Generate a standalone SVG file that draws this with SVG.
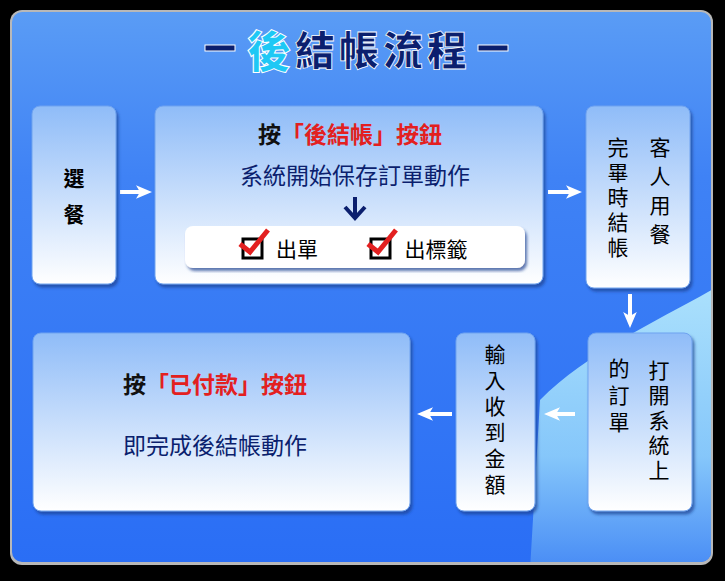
<svg xmlns="http://www.w3.org/2000/svg" width="725" height="581" viewBox="0 0 725 581">
<defs>
<linearGradient id="bg" x1="0" y1="0" x2="0" y2="1"><stop offset="0" stop-color="#5a9cf5"/><stop offset="0.3" stop-color="#3f82f5"/><stop offset="1" stop-color="#2a6ef5"/></linearGradient>
<linearGradient id="nd" x1="0" y1="0" x2="0" y2="1"><stop offset="0" stop-color="#8fbcf8"/><stop offset="1" stop-color="#ffffff"/></linearGradient>
<linearGradient id="lt" x1="0" y1="0" x2="0" y2="1"><stop offset="0" stop-color="#b8ecfd"/><stop offset="0.6" stop-color="#8fd0fb"/><stop offset="1" stop-color="#4a8ef5"/></linearGradient>
<clipPath id="pc"><rect x="12" y="12" width="699" height="550" rx="10"/></clipPath>
<filter id="sh"><feDropShadow dx="2" dy="3" stdDeviation="1.5" flood-color="#1c3f8f" flood-opacity="0.7"/></filter>
<marker id="ar" markerWidth="4" markerHeight="4" refX="2" refY="2" orient="auto" markerUnits="strokeWidth"><path d="M0,0.3 L4,2 L0,3.7 L1,2 Z" fill="#fff"/></marker>
</defs>
<style>
.n{fill:url(#nd);stroke:#6fa3f0;stroke-width:1;filter:url(#sh)}
.t{font-family:"Noto Sans CJK TC","Noto Sans CJK SC",sans-serif;font-size:21px;fill:#000;text-anchor:middle}
.b{font-family:"Noto Sans CJK TC",sans-serif;font-size:23px;fill:#0b1f6e;text-anchor:middle}
.r{font-family:"Noto Sans CJK TC",sans-serif;font-size:23px;font-weight:bold;text-anchor:middle}
.c{stroke:#fff;stroke-width:4;fill:none;marker-end:url(#ar)}
</style>
<rect width="725" height="581" fill="#000"/>
<rect x="10" y="10" width="703" height="555" rx="12" fill="#b8b8b8"/>
<rect x="12" y="12" width="699" height="550" rx="10" fill="url(#bg)"/>
<path clip-path="url(#pc)" d="M720,285 C660,320 590,350 540,400 L530,570 L720,570 Z" fill="url(#lt)" opacity="0.9"/>
<g id="title" font-family="Noto Sans CJK TC,sans-serif" font-weight="900">
<rect x="205" y="45" width="30" height="6" fill="#0b1f6e" stroke="#fff" stroke-width="1"/>
<rect x="478" y="45" width="30" height="6" fill="#0b1f6e" stroke="#fff" stroke-width="1"/>
<text x="269" y="68" font-size="44" fill="#1ec8f5" text-anchor="middle" stroke="#fff" stroke-width="1">後</text>
<text x="295" y="65" font-size="40" fill="#0b1f6e" stroke="#fff" stroke-width="0.8" textLength="172">結帳流程</text>
</g>
<g id="connectors">
<line x1="120" y1="192" x2="144" y2="192" class="c"/>
<line x1="548" y1="192" x2="574" y2="192" class="c"/>
<line x1="630" y1="294" x2="630" y2="320" class="c"/>
<line x1="575" y1="414" x2="552" y2="414" class="c"/>
<line x1="452" y1="414" x2="425" y2="414" class="c"/>
</g>
<g id="n1"><rect class="n" x="32" y="106" width="84" height="178" rx="8"/>
<text class="t" x="74" y="186" font-size="28" font-weight="bold">選</text><text class="t" x="74" y="222" font-size="28" font-weight="bold">餐</text></g>
<g id="n2"><rect class="n" x="155" y="106" width="388" height="178" rx="8"/>
<text class="r" x="350" y="143"><tspan fill="#111">按</tspan><tspan fill="#e32020">「後結帳」按鈕</tspan></text>
<text class="b" x="355" y="184">系統開始保存訂單動作</text>
<path d="M355,197 V216 M345,207 L355,218 L365,207" stroke="#0b1f6e" stroke-width="4" fill="none"/>
<rect x="185" y="226" width="340" height="42" rx="8" fill="#fff" filter="url(#sh)"/>
<rect x="243" y="239" width="19" height="19" fill="none" stroke="#000" stroke-width="3"/>
<path d="M240,244 L250,252 L268,230" stroke="#e32020" stroke-width="5" fill="none"/>
<text class="t" x="297" y="257" font-size="22">出單</text>
<rect x="371" y="239" width="19" height="19" fill="none" stroke="#000" stroke-width="3"/>
<path d="M368,244 L378,252 L396,230" stroke="#e32020" stroke-width="5" fill="none"/>
<text class="t" x="436" y="257" font-size="22">出標籤</text></g>
<g id="n3"><rect class="n" x="586" y="106" width="104" height="182" rx="8"/>
<text class="t" x="660" y="155">客</text><text class="t" x="660" y="184">人</text><text class="t" x="660" y="213">用</text><text class="t" x="660" y="242">餐</text>
<text class="t" x="618" y="155">完</text><text class="t" x="618" y="180">畢</text><text class="t" x="618" y="205">時</text><text class="t" x="618" y="230">結</text><text class="t" x="618" y="255">帳</text></g>
<g id="n4"><rect class="n" x="588" y="333" width="104" height="178" rx="8"/>
<text class="t" x="659" y="378">打</text><text class="t" x="659" y="403">開</text><text class="t" x="659" y="428">系</text><text class="t" x="659" y="453">統</text><text class="t" x="659" y="478">上</text>
<text class="t" x="619" y="376">的</text><text class="t" x="619" y="403">訂</text><text class="t" x="619" y="430">單</text></g>
<g id="n5"><rect class="n" x="456" y="333" width="79" height="178" rx="8"/>
<text class="t" x="495" y="362">輸</text><text class="t" x="495" y="388">入</text><text class="t" x="495" y="414">收</text><text class="t" x="495" y="440">到</text><text class="t" x="495" y="466">金</text><text class="t" x="495" y="492">額</text></g>
<g id="n6"><rect class="n" x="33" y="333" width="377" height="178" rx="8"/>
<text class="r" x="215" y="393"><tspan fill="#111">按</tspan><tspan fill="#e32020">「已付款」按鈕</tspan></text>
<text class="b" x="215" y="454">即完成後結帳動作</text></g>
</svg>
